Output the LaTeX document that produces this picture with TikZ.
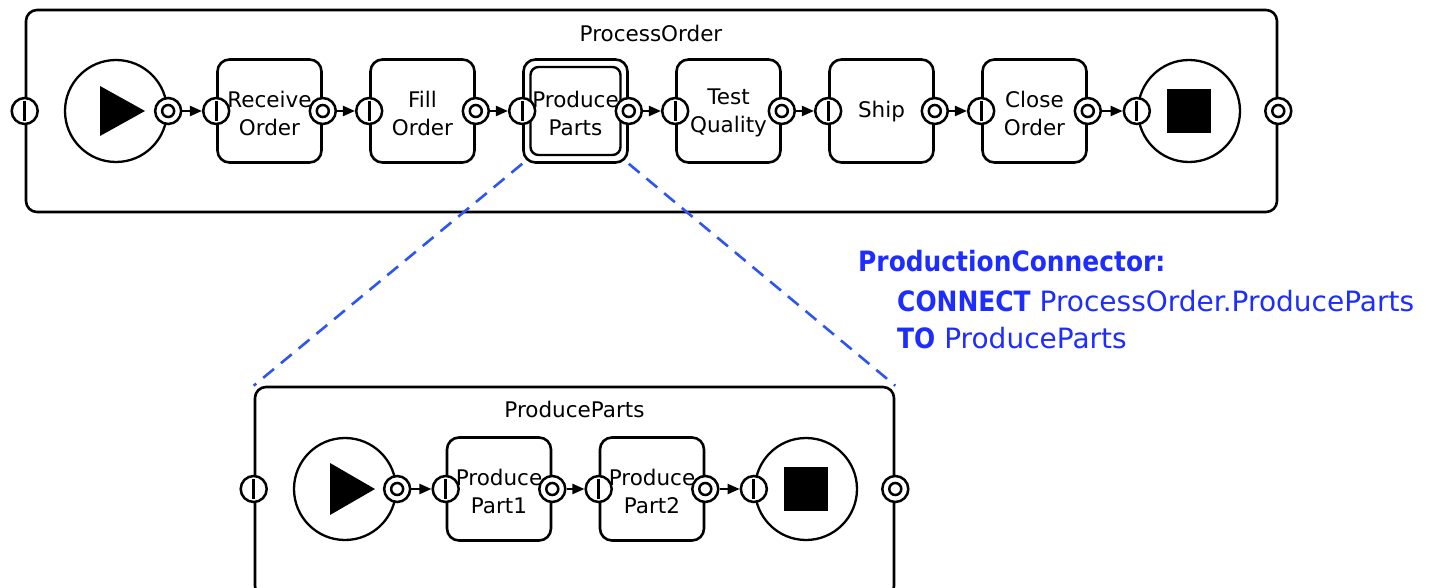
\documentclass[tikz,border=0pt]{standalone}
\usepackage{fontspec}
\setmainfont{DejaVu Sans}
\usepackage{graphicx}
\usetikzlibrary{arrows.meta,calc}

\definecolor{linkblue}{RGB}{45,85,240}
\definecolor{codeblue}{RGB}{30,45,255}

% keywords of the connector declaration
\newcommand{\kw}[1]{\scalebox{0.89}[1]{\bfseries #1}}

\begin{document}
\begin{tikzpicture}[x=1pt,y=-1pt,
  container/.style={draw, rounded corners=11pt, line width=2.6pt, inner sep=0pt},
  task/.style={draw, rounded corners=12pt, line width=2.6pt, minimum width=104pt,
    minimum height=103pt, inner sep=0pt},
  innerframe/.style={draw, rounded corners=8pt, line width=2.4pt, minimum width=90pt,
    minimum height=88pt, inner sep=0pt},
  event/.style={draw, circle, line width=2.3pt, minimum size=102pt, inner sep=0pt},
  inport/.style={draw, circle, fill=white, line width=2.5pt, minimum size=26pt, inner sep=0pt,
    path picture={\draw[line width=3pt]
      ([yshift=-10pt]path picture bounding box.center) --
      ([yshift=10pt]path picture bounding box.center);}},
  outport/.style={draw, circle, fill=white, line width=2.5pt, minimum size=26pt, inner sep=0pt,
    path picture={\draw[line width=2.5pt]
      (path picture bounding box.center) circle[radius=6pt];}},
  flow/.style={line width=2.2pt, -{Triangle[length=12pt,width=10pt]}},
  tasktext/.style={font=\fontsize{21.5pt}{28pt}\selectfont, align=center, inner sep=0pt},
  title/.style={font=\fontsize{21.5pt}{26pt}\selectfont, inner sep=0pt},
  zoomline/.style={draw=linkblue, line width=2.6pt, dash pattern=on 14pt off 9pt},
  code/.style={font=\fontsize{28pt}{34pt}\selectfont, text=codeblue, anchor=base west,
    inner sep=0pt}
]
\clip (0,0) rectangle (1443,588);

% ---------- ProcessOrder ----------
\node[container, minimum width=1251pt, minimum height=202pt] (po) at (651.5,111) {};
\node[title] (potitle) at (651,33) {ProcessOrder};

\node[event] (s1) at (116,111) {};
\fill ([shift={(-16,-25)}]s1.center) -- ([shift={(29,0)}]s1.center)
  -- ([shift={(-16,25)}]s1.center) -- cycle;

\node[task] (t1) at (269.5,111) {};
\node[task] (t2) at (422.5,111) {};
\node[task] (t3) at (575.5,111) {};
\node[innerframe] (t3in) at (t3.center) {};
\node[task] (t4) at (728.5,111) {};
\node[task] (t5) at (881.5,111) {};
\node[task] (t6) at (1034.5,111) {};

\node[event] (e1) at (1189,111) {};
\fill ([shift={(-22,-22)}]e1.center) rectangle ([shift={(22,22)}]e1.center);

% ---------- ProduceParts ----------
\node[container, minimum width=639pt, minimum height=210pt] (pp) at (574.5,492) {};
\node[title] (pptitle) at (574.5,409) {ProduceParts};

\node[event] (s2) at (345,489) {};
\fill ([shift={(-15,-26)}]s2.center) -- ([shift={(30,0)}]s2.center)
  -- ([shift={(-15,26)}]s2.center) -- cycle;

\node[task] (u1) at (499,489) {};
\node[task] (u2) at (652,489) {};

\node[event] (e2) at (806,489) {};
\fill ([shift={(-22,-22)}]e2.center) rectangle ([shift={(22,22)}]e2.center);

% refinement of the composite task
\draw[zoomline] (t3.south west) -- (pp.north west);
\draw[zoomline] (t3.south east) -- (pp.north east);

% ---------- ports ----------
\node[inport]  (po-in)  at (po.west) {};
\node[outport] (po-out) at (po.east) {};
\node[outport] (s1-out) at (s1.east) {};
\foreach \t in {t1,t2,t3,t4,t5,t6}{
  \node[inport]  (\t-in)  at (\t.west) {};
  \node[outport] (\t-out) at (\t.east) {};
}
\node[inport] (e1-in) at (e1.west) {};

\node[inport]  (pp-in)  at (pp.west |- s2) {};
\node[outport] (pp-out) at (pp.east |- s2) {};
\node[outport] (s2-out) at (s2.east) {};
\foreach \t in {u1,u2}{
  \node[inport]  (\t-in)  at (\t.west) {};
  \node[outport] (\t-out) at (\t.east) {};
}
\node[inport] (e2-in) at (e2.west) {};

% ---------- control flow ----------
\draw[flow] (s1-out) -- (t1-in);
\draw[flow] (t1-out) -- (t2-in);
\draw[flow] (t2-out) -- (t3-in);
\draw[flow] (t3-out) -- (t4-in);
\draw[flow] (t4-out) -- (t5-in);
\draw[flow] (t5-out) -- (t6-in);
\draw[flow] (t6-out) -- (e1-in);

\draw[flow] (s2-out) -- (u1-in);
\draw[flow] (u1-out) -- (u2-in);
\draw[flow] (u2-out) -- (e2-in);

% ---------- task names ----------
\node[tasktext] (t1-text) at ([yshift=-2pt]t1.center) {Receive\\Order};
\node[tasktext] (t2-text) at ([yshift=-2pt]t2.center) {Fill\\Order};
\node[tasktext] (t3-text) at ([yshift=-2pt]t3.center) {Produce\\Parts};
\node[tasktext] (t4-text) at ([yshift=-2pt]t4.center) {Test\\Quality};
\node[tasktext] (t5-text) at ([yshift=-1pt]t5.center) {Ship};
\node[tasktext] (t6-text) at ([yshift=-2pt]t6.center) {Close\\Order};
\node[tasktext] (u1-text) at ([yshift=-2pt]u1.center) {Produce\\Part1};
\node[tasktext] (u2-text) at ([yshift=-2pt]u2.center) {Produce\\Part2};

% ---------- connector declaration ----------
\node[code] (c1) at (858,272) {\kw{ProductionConnector:}};
\node[code] (c2) at (897,311) {\kw{CONNECT} ProcessOrder.ProduceParts};
\node[code] (c3) at (897,348) {\kw{TO} ProduceParts};
\end{tikzpicture}
\end{document}
